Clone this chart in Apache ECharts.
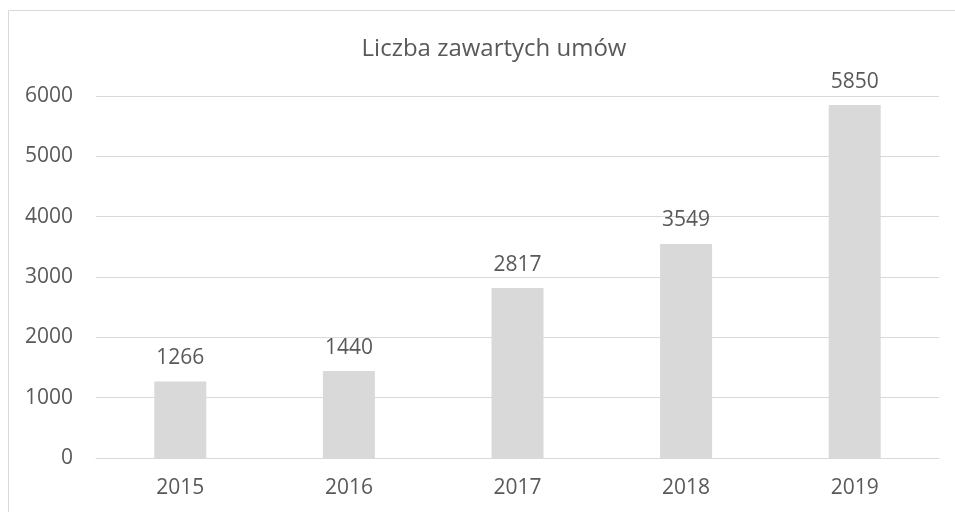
<!DOCTYPE html>
<html>
<head>
<meta charset="utf-8">
<script src="https://cdn.jsdelivr.net/npm/echarts@6/dist/echarts.min.js"></script>
<style>
html,body{margin:0;padding:0;background:#fff;}
#chart{width:955px;height:512px;}
</style>
</head>
<body>
<div id="chart"></div>
<script>
const titleText = 'Liczba zawartych umów';
const categories = ['2015', '2016', '2017', '2018', '2019'];
const values = [1266, 1440, 2817, 3549, 5850];
const yTicks = [0, 1000, 2000, 3000, 4000, 5000, 6000];

const chart = echarts.init(document.getElementById('chart'), null, {renderer: 'canvas'});
const font = '"Open Sans", "Liberation Sans", sans-serif';
const textColor = '#595959';
chart.setOption({
  animation: false,
  backgroundColor: '#ffffff',
  graphic: [{
    type: 'rect',
    shape: {x: 8.5, y: 10.5, width: 1200, height: 1200},
    style: {fill: 'none', stroke: '#d9d9d9', lineWidth: 1},
    silent: true,
    z: -10
  }],
  title: {
    text: titleText,
    left: 489,
    top: 32,
    textAlign: 'center',
    textStyle: {fontFamily: font, fontSize: 24, fontWeight: 'normal', color: textColor}
  },
  grid: {left: 96, right: 16, top: 96, bottom: 54, containLabel: false},
  xAxis: {
    type: 'category',
    data: categories,
    axisLine: {show: true, lineStyle: {color: '#d9d9d9', width: 1}},
    axisTick: {show: false},
    axisLabel: {fontFamily: font, fontSize: 21, color: textColor, margin: 20}
  },
  yAxis: {
    type: 'value',
    min: yTicks[0],
    max: yTicks[yTicks.length - 1],
    interval: 1000,
    axisLine: {show: false},
    axisTick: {show: false},
    splitLine: {lineStyle: {color: '#d9d9d9', width: 1}},
    axisLabel: {fontFamily: font, fontSize: 21, color: textColor, margin: 23,
      formatter: function (v) { return String(v); }}
  },
  series: [{
    type: 'bar',
    data: values,
    barWidth: 52,
    itemStyle: {color: '#d9d9d9'},
    label: {
      show: true,
      position: 'top',
      distance: 13,
      fontFamily: font,
      fontSize: 21,
      color: textColor
    }
  }]
});
</script>
</body>
</html>
